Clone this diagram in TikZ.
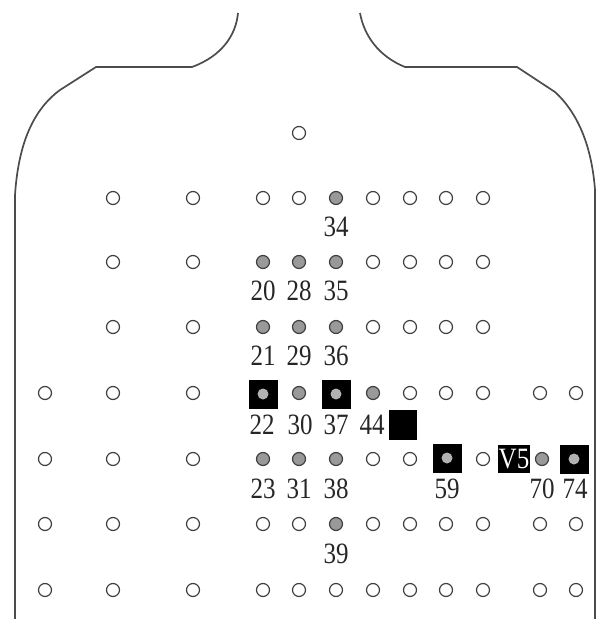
\documentclass[tikz,border=0pt]{standalone}
\usepackage{fontspec}
\setmainfont{Liberation Serif}
\newcommand{\lbtxt}[1]{\scalebox{1}[1.18]{#1}}
\begin{document}
\begin{tikzpicture}[x=1pt,y=-1pt,
  outline/.style={draw=black!70, line width=1.7pt},
  wdot/.style={circle, draw=black!75, line width=1.2pt, fill=white, minimum size=13pt, inner sep=0pt},
  gdot/.style={wdot, fill=black!40},
  bbox/.style={fill=black, minimum width=29pt, minimum height=29pt, inner sep=0pt},
  idot/.style={circle, fill=black!30, minimum size=11pt, inner sep=0pt},
  lbl/.style={font=\fontsize{25}{25}\selectfont, inner sep=0pt, text=black!85}]
\useasboundingbox (0,0) rectangle (597,619);
% body outline
\draw[outline] (238,13) .. controls (236,35) and (222,56) .. (192,67) -- (96,67)
  -- (60,90) .. controls (30,112) and (18,150) .. (15,195) -- (15,619);
\draw[outline] (360,13) .. controls (364,35) and (378,56) .. (405,67) -- (517,67)
  -- (555,92) .. controls (580,115) and (592,150) .. (595,190) -- (595,619);
% top dot
\node[wdot] (r0e) at (299,133) {};
% row 1
\foreach \x/\n in {113/b,193/c,263/d,299/e,373/g,410/h,446/i,483/j}
  \node[wdot] (r1\n) at (\x,198) {};
\node[gdot] (r1f) at (336,198) {};
% row 2
\foreach \x/\n in {113/b,193/c,373/g,410/h,446/i,483/j}
  \node[wdot] (r2\n) at (\x,262) {};
\foreach \x/\n in {263/d,299/e,336/f}
  \node[gdot] (r2\n) at (\x,262) {};
% row 3
\foreach \x/\n in {113/b,193/c,373/g,410/h,446/i,483/j}
  \node[wdot] (r3\n) at (\x,327) {};
\foreach \x/\n in {263/d,299/e,336/f}
  \node[gdot] (r3\n) at (\x,327) {};
% row 4
\foreach \x/\n in {45/a,113/b,193/c,410/h,446/i,483/j,540/k,576/l}
  \node[wdot] (r4\n) at (\x,393) {};
\foreach \x/\n in {299/e,373/g}
  \node[gdot] (r4\n) at (\x,393) {};
\node[bbox] (b22) at (263,394) {};
\node[idot] (r4d) at (b22) {};
\node[bbox] (b37) at (336,394) {};
\node[idot] (r4f) at (b37) {};
\node[bbox, minimum width=28pt, minimum height=30pt] (sq) at (403,425) {};
% row 5
\foreach \x/\n in {45/a,113/b,193/c,373/g,410/h,483/j}
  \node[wdot] (r5\n) at (\x,459) {};
\foreach \x/\n in {263/d,299/e,336/f,542/k}
  \node[gdot] (r5\n) at (\x,459) {};
\node[bbox] (b59) at (447,458) {};
\node[idot] (r5i) at (b59) {};
\node[bbox] (b74) at (574,459) {};
\node[idot] (r5l) at (b74) {};
\node[bbox, minimum width=32pt, minimum height=28pt, text=white, font=\fontsize{25}{25}\selectfont] (v5) at (514,459) {\lbtxt{V5}};
% row 6
\foreach \x/\n in {45/a,113/b,193/c,263/d,299/e,373/g,410/h,446/i,483/j,540/k,576/l}
  \node[wdot] (r6\n) at (\x,524) {};
\node[gdot] (r6f) at (336,524) {};
% row 7
\foreach \x/\n in {45/a,113/b,193/c,263/d,299/e,336/f,373/g,410/h,446/i,483/j,540/k,576/l}
  \node[wdot] (r7\n) at (\x,590) {};
% labels
\node[lbl] (l34) at (336,227) {\lbtxt{34}};
\node[lbl] (l20) at (263,291) {\lbtxt{20}};
\node[lbl] (l28) at (299,291) {\lbtxt{28}};
\node[lbl] (l35) at (336,291) {\lbtxt{35}};
\node[lbl] (l21) at (263,356) {\lbtxt{21}};
\node[lbl] (l29) at (299,356) {\lbtxt{29}};
\node[lbl] (l36) at (336,356) {\lbtxt{36}};
\node[lbl] (l22) at (262,425) {\lbtxt{22}};
\node[lbl] (l30) at (300,425) {\lbtxt{30}};
\node[lbl] (l37) at (336,425) {\lbtxt{37}};
\node[lbl] (l44) at (372,425) {\lbtxt{44}};
\node[lbl] (l23) at (263,489) {\lbtxt{23}};
\node[lbl] (l31) at (299,489) {\lbtxt{31}};
\node[lbl] (l38) at (336,489) {\lbtxt{38}};
\node[lbl] (l59) at (447,489) {\lbtxt{59}};
\node[lbl] (l70) at (542,489) {\lbtxt{70}};
\node[lbl] (l74) at (575,489) {\lbtxt{74}};
\node[lbl] (l39) at (336,554) {\lbtxt{39}};
\end{tikzpicture}
\end{document}
